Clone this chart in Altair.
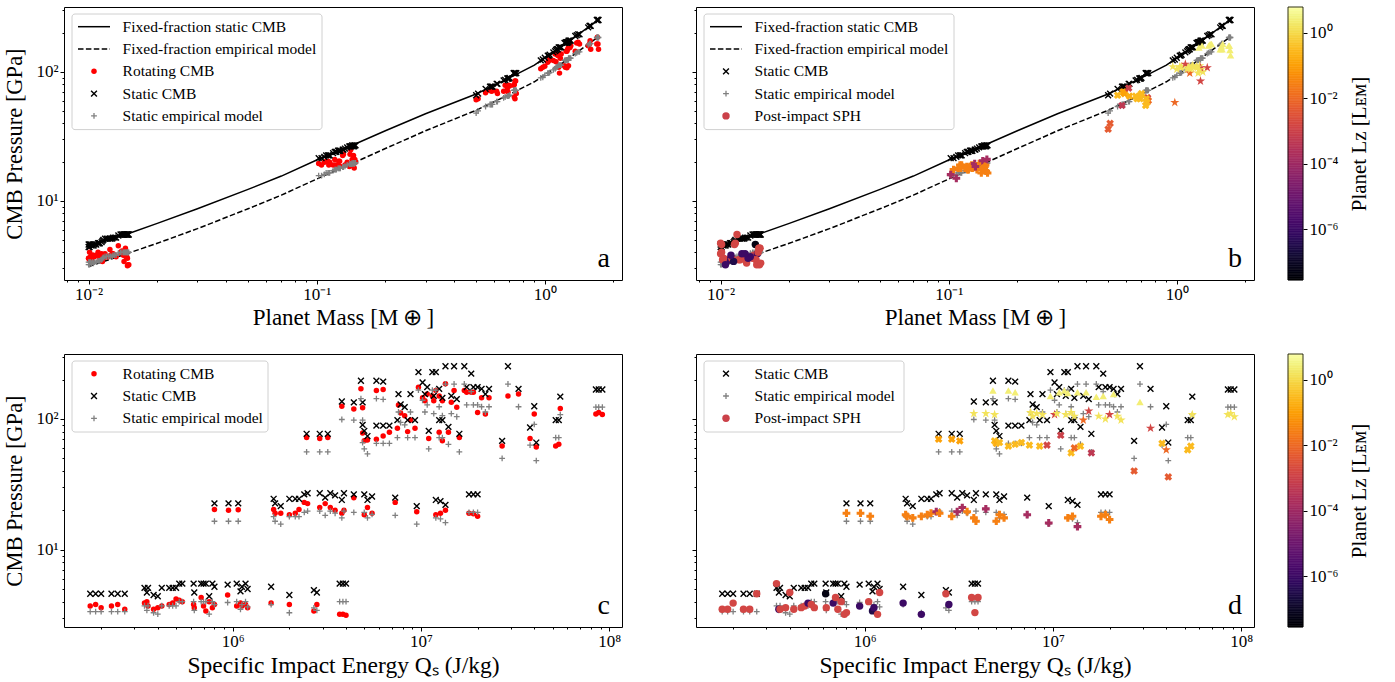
import altair as alt
import numpy as np
import pandas as pd

FONT = "Liberation Serif"
W, H = 558, 273

# ---------------- data ----------------
# fixed-fraction model curves
line_mass = [0.01, 0.015, 0.02, 0.03, 0.05, 0.07, 0.1, 0.15, 0.2, 0.3, 0.5, 0.7, 0.9, 1.2, 1.7]
line_static = [4.45, 5.6, 6.7, 8.7, 12.3, 15.6, 20.8, 28.0, 35.0, 47.5, 67.5, 90, 113, 160, 250]
line_emp = [3.1, 3.95, 4.7, 6.1, 8.7, 11.1, 14.8, 20.3, 25.5, 35.0, 50.5, 67, 84, 118, 185]

# group 1 (~0.01 M_earth)
g1_qs = [1.75e5, 1.87e5, 2.0e5, 2.27e5, 2.45e5, 2.67e5, 3.4e5, 3.5e5, 3.55e5, 3.8e5, 4.0e5, 4.2e5,
         4.6e5, 4.8e5, 5.0e5, 5.2e5, 5.4e5, 6.2e5, 6.25e5, 6.8e5, 7.0e5, 7.2e5, 7.5e5, 7.8e5, 8.0e5,
         9.4e5, 1.05e6, 1.1e6, 1.12e6, 1.17e6, 1.2e6, 1.6e6, 2.0e6, 2.7e6, 2.8e6, 3.7e6, 3.85e6, 4.0e6]
g1_mass = [0.0102, 0.0104, 0.0100, 0.0106, 0.0108, 0.0101, 0.0118, 0.0110, 0.0122, 0.0103, 0.0100, 0.0120,
           0.0125, 0.0127, 0.0124, 0.0140, 0.0138, 0.0142, 0.0112, 0.0145, 0.0147, 0.0143, 0.0101, 0.0148, 0.0130,
           0.0135, 0.0146, 0.0114, 0.0132, 0.0144, 0.0116, 0.0128, 0.0105, 0.0115, 0.0111, 0.0149, 0.0150, 0.0148]
g1_ps = [4.6, 4.6, 4.6, 4.6, 4.6, 4.6, 5.1, 4.7, 5.1, 4.5, 4.4, 5.1,
         5.1, 5.1, 5.1, 5.5, 5.5, 5.5, 4.7, 5.5, 5.5, 5.5, 4.4, 5.5, 5.2,
         5.4, 5.5, 4.8, 5.2, 5.5, 5.0, 5.2, 4.5, 4.9, 4.7, 5.5, 5.5, 5.5]
g1_pe = [3.36, 3.36, 3.36, 3.36, 3.36, 3.36, 3.72, 3.43, 3.72, 3.29, 3.21, 3.72,
         3.72, 3.72, 3.72, 4.0, 4.0, 4.0, 3.43, 4.0, 4.0, 4.0, 3.21, 4.0, 3.8,
         3.94, 4.0, 3.5, 3.8, 4.0, 3.65, 3.8, 3.29, 3.58, 3.43, 4.0, 4.0, 4.0]
g1_pr = [3.7, 3.8, 3.6, 3.7, 3.8, 3.5, 3.9, 4.0, 3.7, 3.5, 3.6, 3.7,
         3.8, 3.9, 4.2, 4.1, 4.0, 3.8, 3.6, 4.3, 3.7, 3.4, 4.0, 3.6, 3.8,
         4.5, 3.7, 3.9, 3.7, 3.8, 3.6, 3.9, 3.8, 3.4, 3.8, 3.2, 3.2, 3.15]
g1_psph = [3.5, 3.5, 3.9, 3.5, 3.5, 4.6, 5.5, 3.5, 3.5, 3.6, 4.7, 3.5,
           3.6, 3.7, 3.9, 3.8, 3.6, 4.6, 3.6, 3.9, 4.3, 3.5, 4.0, 3.2, 3.3,
           3.7, 4.0, 3.4, 3.6, 3.2, 4.7, 3.9, 3.2, 4.6, 3.8, 4.3, 3.3, 4.3]
g1_lz = [1.5e-3, 1.5e-3, 1.5e-3, 1.5e-3, 1.5e-3, 1.5e-3, 1.5e-3, 1e-6, 1.5e-3, 1.5e-3, 1.5e-3, 1.5e-3,
         1.5e-3, 1.5e-3, 1e-6, 1.5e-3, 1.5e-3, 5e-8, 1.5e-3, 1e-6, 1.5e-3, 1.5e-3, 1.5e-3, 1.5e-3, 1.5e-3,
         1e-6, 1.5e-3, 3e-7, 1e-6, 1.5e-3, 1.5e-3, 1e-6, 1e-6, 1.5e-3, 1e-6, 1.5e-3, 1.5e-3, 1.5e-3]

# group 2 (~0.1 M_earth)
g2_qs = [8.0e5, 9.5e5, 1.07e6, 1.65e6, 1.68e6, 1.8e6, 2.0e6, 2.15e6, 2.25e6, 2.4e6, 2.5e6,
         2.9e6, 3.1e6, 3.3e6, 3.5e6, 3.8e6, 3.9e6, 4.4e6, 5.0e6, 5.2e6, 5.5e6, 7.3e6, 9.5e6,
         1.2e7, 1.27e7, 1.35e7, 1.8e7, 1.9e7, 2.0e7]
g2_mass = [0.112, 0.114, 0.110, 0.125, 0.113, 0.105, 0.127, 0.124, 0.126, 0.140, 0.145,
           0.143, 0.130, 0.147, 0.136, 0.121, 0.148, 0.141, 0.139, 0.120, 0.133, 0.131, 0.102,
           0.122, 0.118, 0.108, 0.142, 0.144, 0.146]
g2_ps = [22.6, 22.6, 22.6, 24.5, 22.6, 21.5, 24.5, 24.5, 24.5, 26.5, 27.0,
         27.0, 25.0, 27.0, 26.0, 24.0, 27.0, 26.5, 26.5, 24.0, 25.5, 25.0, 21.5,
         24.0, 23.5, 22.0, 26.5, 26.5, 26.5]
g2_pe = [16.5, 16.5, 16.5, 17.9, 16.5, 15.7, 17.9, 17.9, 17.9, 19.3, 19.7,
         19.7, 18.3, 19.7, 19.0, 17.5, 19.7, 19.3, 19.3, 17.5, 18.6, 18.3, 15.7,
         17.5, 17.2, 16.1, 19.3, 19.3, 19.3]
g2_pr = [20.3, 20.0, 20.2, 20.3, 19.0, 19.0, 18.5, 19.0, 20.3, 23.0, 22.5,
         21.0, 22.5, 21.0, 20.0, 19.0, 20.0, 25.0, 18.5, 21.0, 19.0, 23.0, 19.5,
         18.5, 19.0, 20.0, 19.0, 18.8, 18.0]
g2_psph = [19.0, 19.0, 18.0, 18.5, 18.0, 17.5, 18.0, 18.5, 19.0, 19.5, 19.0,
           18.0, 19.5, 21.0, 19.5, 17.5, 16.5, 20.5, 16.5, 18.5, 17.5, 18.5, 16.0,
           17.5, 18.0, 15.0, 18.0, 18.5, 17.0]
g2_lz = [3e-2, 3e-2, 3e-2, 3e-2, 3e-2, 3e-2, 3e-2, 3e-2, 3e-2, 1.5e-4, 3e-2,
         3e-2, 1.5e-4, 1.5e-4, 3e-2, 3e-2, 3e-2, 1.5e-4, 3e-2, 3e-2, 3e-2, 1.5e-4, 1.5e-4,
         3e-2, 3e-2, 1.5e-4, 3e-2, 3e-2, 3e-2]

# groups 3 and 4 (~0.5-0.75 and ~0.9-1.7 M_earth)
g3_qs = [2.47e6, 2.9e6, 3.2e6, 3.8e6, 4.4e6, 4.8e6, 4.9e6, 5.8e6, 6.3e6, 4.9e6, 5.0e6, 5.2e6,
         5.8e6, 6.3e6, 6.8e6, 7.5e6, 7.6e6, 7.8e6, 8.2e6, 8.8e6, 8.5e6, 9.3e6, 9.7e6, 1.02e7,
         1.05e7, 1.08e7, 1.1e7, 1.15e7, 1.17e7, 1.2e7, 1.25e7, 1.3e7, 1.35e7, 1.25e7, 1.3e7, 1.4e7,
         1.45e7, 1.5e7, 1.55e7, 1.6e7, 1.7e7, 1.75e7, 1.85e7, 1.9e7, 2.0e7, 2.1e7, 2.2e7, 2.3e7,
         2.9e7, 3.3e7, 2.7e7, 4.0e7, 3.8e7, 4.1e7, 5.2e7, 5.5e7, 5.4e7, 8.5e7, 8.8e7, 9.2e7]
g3_mass = [0.58, 0.585, 0.59, 1.05, 1.03, 1.40, 1.04, 1.42, 1.38, 0.70, 0.62, 0.55,
           0.69, 0.685, 0.695, 0.74, 1.17, 1.00, 0.96, 1.16, 0.735, 0.745, 1.58, 1.36,
           1.18, 1.29, 0.615, 1.59, 1.13, 1.57, 1.26, 1.11, 1.70, 0.73, 0.75, 0.67,
           1.14, 1.69, 1.09, 0.575, 1.71, 1.28, 1.55, 1.30, 1.27, 1.25, 1.15, 1.24,
           1.72, 1.27, 0.51, 0.98, 0.66, 0.50, 0.74, 1.12, 0.735, 1.23, 1.22, 1.25]
g3_ps = [77, 77, 77, 136, 134, 196, 134, 196, 193, 90, 81, 74,
         89, 89, 89, 98, 155, 129, 123, 155, 98, 98, 228, 190,
         155, 175, 81, 228, 150, 228, 170, 145, 253, 98, 98, 87,
         150, 253, 142, 77, 253, 175, 222, 175, 175, 170, 155, 170,
         253, 170, 68, 125, 86, 66, 98, 148, 98, 168, 168, 168]
g3_pe = [56, 56, 56, 99, 98, 143, 98, 143, 141, 66, 59, 54,
         65, 65, 65, 72, 113, 94, 90, 113, 72, 72, 166, 139,
         113, 128, 59, 166, 110, 166, 124, 106, 185, 72, 72, 64,
         110, 185, 104, 56, 185, 128, 162, 128, 128, 124, 113, 124,
         185, 124, 50, 91, 63, 48, 72, 108, 72, 123, 123, 123]
g3_pr = [72, 71, 72, 125, 119, 170, 122, 165, 168, 78, 68, 69,
         70, 74, 79, 85, 128, 111, 106, 98, 80, 85, 175, 145,
         138, 155, 71, 150, 138, 165, 150, 138, 186, 79, 68, 79,
         134, 165, 123, 72, 165, 160, 160, 160, 112, 145, 109, 145,
         150, 155, 62, 109, 71, 61, 62, 120, 64, 109, 112, 108]
g3_psph = [70, 70, 68, 110, 110, 165, 108, 165, 160, 68, 65, 66,
           62, 64, 66, 63, 112, 105, 110, 108, 62, 63, 150, 108,
           110, 160, 75, 165, 108, 158, 112, 105, 160, 55, 60, 62,
           98, 160, 115, 55, 148, 105, 150, 100, 108, 155, 105, 98,
           135, 85, 40, 58, 65, 36, 58, 108, 62, 108, 110, 104]
g3_lz = [0.12, 0.12, 0.12, 1.5, 1.5, 2.5, 1.5, 2.5, 2.5, 0.3, 0.2, 0.3,
         0.3, 0.3, 0.3, 0.3, 1.5, 1.5, 1.5, 1.5, 0.3, 1.5e-3, 2.5, 1.5e-3,
         1.5, 2.5, 1e-3, 2.5, 1.5, 2.5, 1.5, 1.5, 2.5, 0.3, 1e-2, 0.3,
         1e-2, 2.5, 1.5e-3, 5e-4, 2.5, 1.5, 2.5, 1.5, 1.5e-3, 2.5, 1.5, 1.5,
         2.5, 1.5e-3, 5e-3, 1e-2, 0.3, 5e-3, 0.3, 1.5, 0.3, 1.5, 1.5, 1.5]
g3_marker = ["X", "X", "X", "*", "*", "^", "*", "^", "^", "X", "X", "X",
             "X", "X", "X", "X", "*", "*", "*", "*", "X", "X", "^", "*",
             "*", "^", "X", "^", "*", "^", "*", "*", "^", "X", "X", "X",
             "*", "^", "*", "X", "^", "*", "^", "*", "*", "^", "*", "*",
             "^", "*", "X", "*", "X", "X", "X", "*", "X", "*", "*", "*"]

sims = pd.DataFrame({
    "mass": g1_mass + g2_mass + g3_mass,
    "qs": g1_qs + g2_qs + g3_qs,
    "p_static": g1_ps + g2_ps + g3_ps,
    "p_emp": g1_pe + g2_pe + g3_pe,
    "p_rot": g1_pr + g2_pr + g3_pr,
    "p_sph": g1_psph + g2_psph + g3_psph,
    "lz": g1_lz + g2_lz + g3_lz,
    "marker": ["o"] * len(g1_qs) + ["P"] * len(g2_qs) + g3_marker,
})
lines = pd.DataFrame({"mass": line_mass, "static": line_static, "emp": line_emp})

# ---------------- styling ----------------
CB_LO, CB_HI = 2.8e-8, 6.2
CSCALE = alt.Scale(type="log", domain=[CB_LO, CB_HI], scheme="inferno", nice=False)
XM = alt.Scale(type="log", domain=[0.0078, 2.18], nice=False)
XQ = alt.Scale(type="log", domain=[1.27e5, 1.17e8], nice=False)
YT = alt.Scale(type="log", domain=[2.44, 319], nice=False)
YB = alt.Scale(type="log", domain=[2.56, 314], nice=False)

MAJOR = "abs(log(datum.value)/LN10 - round(log(datum.value)/LN10)) < 0.001"
EXP = "round(log(datum.value)/LN10)"
LABEL_EXPR = (f"{MAJOR} ? '10' + ({EXP} < 0 ? '\u207b' : '') + "
              f"['\u2070','\u00b9','\u00b2','\u00b3','\u2074','\u2075','\u2076','\u2077','\u2078','\u2079'][abs({EXP})] : ''")
TICK_SIZE = {"condition": {"test": MAJOR, "value": 4}, "value": 2}
LABEL_SIZE = 17


def ticks(lo_exp, hi_exp, lo, hi):
    return [m * 10.0 ** e for e in range(lo_exp, hi_exp + 1) for m in range(1, 10) if lo <= m * 10.0 ** e <= hi]


def axis(values, title, labels=True, title_size=22.5, title_pad=4):
    return alt.Axis(values=values, labelExpr=LABEL_EXPR, tickSize=TICK_SIZE, grid=False, domain=False,
                    labelOverlap=False, labelFlush=False, tickColor="black", tickWidth=1,
                    labels=labels, title=title, labelFont=FONT, labelFontSize=LABEL_SIZE,
                    titleFont=FONT, titleFontSize=title_size, titlePadding=title_pad)


AX_M = axis(ticks(-3, 0, 0.0078, 2.18), "Planet Mass [M\u2009\u2295\u2009]", title_size=23)
AX_Q = axis(ticks(5, 8, 1.27e5, 1.17e8), "Specific Impact Energy Q\u209b (J/kg)", title_size=23.5)
AX_YT = axis(ticks(0, 2, 2.44, 319), "CMB Pressure [GPa]", title_pad=9)
AX_YT_NL = axis(ticks(0, 2, 2.44, 319), None, labels=False)
AX_YB = axis(ticks(0, 2, 2.56, 314), "CMB Pressure [GPa]", title_pad=9)
AX_YB_NL = axis(ticks(0, 2, 2.56, 314), None, labels=False)

XPATH = "M-1,-1L1,1M1,-1L-1,1"
PPATH = "M-1,0L1,0M0,-1L0,1"
STAR = ("M0,-1L0.2245,-0.309L0.951,-0.309L0.363,0.118L0.588,0.809L0,0.382"
        "L-0.588,0.809L-0.363,0.118L-0.951,-0.309L-0.2245,-0.309Z")

STYLE = {
    "dot": dict(shape="circle", filled=True, color="red", size=30, opacity=1, strokeWidth=0),
    "x": dict(shape=XPATH, filled=False, color="black", size=34, strokeWidth=1.4, opacity=1),
    "plus": dict(shape=PPATH, filled=False, color="gray", size=34, strokeWidth=1.3, opacity=1),
    "sph": dict(shape="circle", filled=True, color="#cb4149", size=55, opacity=1, strokeWidth=0),
}
SPH_STYLE = {
    "o": dict(shape="circle", filled=True, size=55, opacity=1, strokeWidth=0),
    "P": dict(shape="cross", filled=True, size=60, opacity=1, strokeWidth=0),
    "X": dict(shape="cross", angle=45, filled=True, size=60, opacity=1, strokeWidth=0),
    "*": dict(shape=STAR, filled=True, size=95, opacity=1, strokeWidth=0),
    "^": dict(shape="triangle-up", filled=True, size=55, opacity=1, strokeWidth=0),
}

dummy = pd.DataFrame({"k": [0]})


def legend(entries, box_w):
    n = len(entries)
    x0, y0, row0, dy = 8, 7, 12.7, 22.3
    box_h = 2 * row0 + dy * (n - 1) + 1
    out = [alt.Chart(dummy).mark_rect(fill="white", fillOpacity=0.8, stroke="#d0d0d0", strokeWidth=1,
                                       cornerRadius=3).encode(
        x=alt.value(x0), x2=alt.value(x0 + box_w), y=alt.value(y0), y2=alt.value(y0 + box_h))]
    for i, (kind, label) in enumerate(entries):
        yy = y0 + row0 + i * dy
        if kind in ("solid", "dashed"):
            kw = {"strokeDash": [5.5, 2.4]} if kind == "dashed" else {}
            out.append(alt.Chart(dummy).mark_rule(color="black", strokeWidth=1.5, **kw).encode(
                x=alt.value(14), x2=alt.value(46), y=alt.value(yy)))
        else:
            out.append(alt.Chart(dummy).mark_point(**STYLE[kind]).encode(x=alt.value(30), y=alt.value(yy)))
        out.append(alt.Chart(dummy).mark_text(text=label, align="left", baseline="middle", font=FONT,
                                              fontSize=15.5, color="black").encode(
            x=alt.value(58.6), y=alt.value(yy)))
    return out


def letter(t):
    return alt.Chart(dummy).mark_text(text=t, align="right", baseline="alphabetic", font=FONT,
                                      fontSize=28, color="black").encode(x=alt.value(W - 12), y=alt.value(H - 13))


def pts(df, xf, yf, xs, ys, xa, ya, style, color=False):
    enc = dict(x=alt.X(f"{xf}:Q", scale=xs, axis=xa), y=alt.Y(f"{yf}:Q", scale=ys, axis=ya))
    if color:
        enc["color"] = alt.Color("lz:Q", scale=CSCALE, legend=None)
    return alt.Chart(df).mark_point(**style).encode(**enc)


def model_lines(ya):
    solid = alt.Chart(lines).mark_line(color="black", strokeWidth=1.5).encode(
        x=alt.X("mass:Q", scale=XM, axis=AX_M), y=alt.Y("static:Q", scale=YT, axis=ya))
    dashed = alt.Chart(lines).mark_line(color="black", strokeWidth=1.5, strokeDash=[5.5, 2.4]).encode(
        x=alt.X("mass:Q", scale=XM, axis=AX_M), y=alt.Y("emp:Q", scale=YT, axis=ya))
    return [solid, dashed]


def sph_layers(xf, xs, xa, ys, ya):
    out = []
    for mk in ["o", "P", "X", "*", "^"]:
        sub = sims[sims["marker"] == mk]
        out.append(pts(sub, xf, "p_sph", xs, ys, xa, ya, SPH_STYLE[mk], color=True))
    return out


cb_edges = np.logspace(np.log10(CB_LO), np.log10(CB_HI), 161)
cb = pd.DataFrame({"lo": cb_edges[:-1], "hi": cb_edges[1:], "mid": np.sqrt(cb_edges[:-1] * cb_edges[1:])})


def colorbar():
    bar = alt.Chart(cb).mark_rect(strokeWidth=0.6).encode(
        x=alt.value(W + 34), x2=alt.value(W + 49),
        y=alt.Y("lo:Q", scale=alt.Scale(type="log", domain=[CB_LO, CB_HI], nice=False),
                axis=alt.Axis(orient="right", offset=49, values=[1e-6, 1e-4, 1e-2, 1], labelExpr=LABEL_EXPR,
                              tickSize=4, grid=False, domain=False, tickColor="black", labelOverlap=False,
                              labelFlush=False, labelFont=FONT, labelFontSize=LABEL_SIZE, labelPadding=2,
                              title="Planet L\u1d22 [L\u1d07\u1d0d]", titleAngle=270, titleBaseline="top",
                              titleFont=FONT, titleFontSize=21, titlePadding=11)),
        y2="hi:Q",
        color=alt.Color("mid:Q", scale=CSCALE, legend=None),
        stroke=alt.Stroke("mid:Q", scale=CSCALE, legend=None))
    outline = alt.Chart(dummy).mark_rect(filled=False, stroke="black", strokeWidth=0.8).encode(
        x=alt.value(W + 34), x2=alt.value(W + 49), y=alt.value(0), y2=alt.value(H))
    return [bar, outline]


# ---------------- panels ----------------
leg_ab = [("solid", "Fixed-fraction static CMB"), ("dashed", "Fixed-fraction empirical model")]

pa = alt.layer(
    *model_lines(AX_YT),
    pts(sims, "mass", "p_rot", XM, YT, AX_M, AX_YT, STYLE["dot"]),
    pts(sims, "mass", "p_static", XM, YT, AX_M, AX_YT, STYLE["x"]),
    pts(sims, "mass", "p_emp", XM, YT, AX_M, AX_YT, STYLE["plus"]),
    *legend(leg_ab + [("dot", "Rotating CMB"), ("x", "Static CMB"), ("plus", "Static empirical model")], 250),
    letter("a"),
).properties(width=W, height=H)

pb_inner = alt.layer(
    *model_lines(AX_YT_NL),
    pts(sims, "mass", "p_static", XM, YT, AX_M, AX_YT_NL, STYLE["x"]),
    pts(sims, "mass", "p_emp", XM, YT, AX_M, AX_YT_NL, STYLE["plus"]),
    *sph_layers("mass", XM, AX_M, YT, AX_YT_NL),
    *legend(leg_ab + [("x", "Static CMB"), ("plus", "Static empirical model"), ("sph", "Post-impact SPH")], 250),
    letter("b"),
)
pb = alt.layer(pb_inner, *colorbar()).resolve_scale(y="independent").properties(width=W, height=H)

pc = alt.layer(
    pts(sims, "qs", "p_rot", XQ, YB, AX_Q, AX_YB, STYLE["dot"]),
    pts(sims, "qs", "p_static", XQ, YB, AX_Q, AX_YB, STYLE["x"]),
    pts(sims, "qs", "p_emp", XQ, YB, AX_Q, AX_YB, STYLE["plus"]),
    *legend([("dot", "Rotating CMB"), ("x", "Static CMB"), ("plus", "Static empirical model")], 196),
    letter("c"),
).properties(width=W, height=H)

pd_inner = alt.layer(
    pts(sims, "qs", "p_static", XQ, YB, AX_Q, AX_YB_NL, STYLE["x"]),
    pts(sims, "qs", "p_emp", XQ, YB, AX_Q, AX_YB_NL, STYLE["plus"]),
    *sph_layers("qs", XQ, AX_Q, YB, AX_YB_NL),
    *legend([("x", "Static CMB"), ("plus", "Static empirical model"), ("sph", "Post-impact SPH")], 200),
    letter("d"),
)
pdd = alt.layer(pd_inner, *colorbar()).resolve_scale(y="independent").properties(width=W, height=H)

chart = alt.concat(pa, pb, pc, pdd, columns=2, spacing=74, bounds="flush").properties(
    padding={"left": 3, "top": 0, "right": 5, "bottom": 5}
).configure(font=FONT).configure_view(stroke="black", strokeWidth=1).configure_axis(
    labelFont=FONT, titleFont=FONT, labelFontSize=LABEL_SIZE, titleFontSize=22.5, titleFontWeight="normal",
    labelColor="black", titleColor="black", labelPadding=2, titlePadding=4
)

chart.save("out.html", embed_options={"renderer": "svg", "actions": False})
